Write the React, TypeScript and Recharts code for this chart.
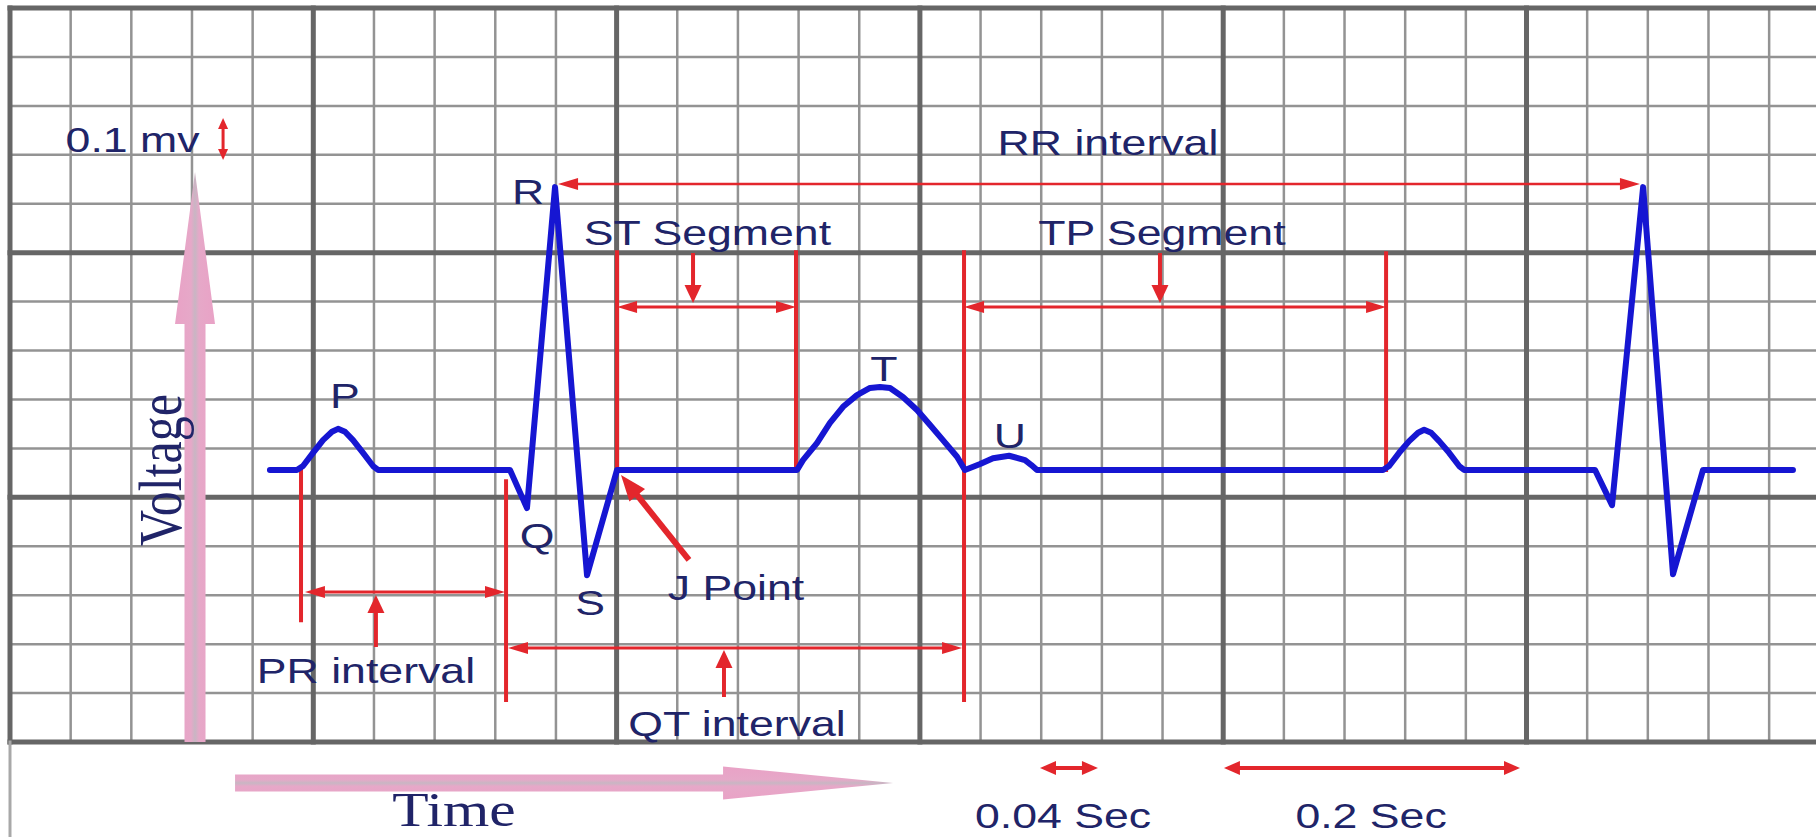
import React from 'react';
import { ComposedChart, Line, XAxis, YAxis, ReferenceLine, ReferenceDot } from 'recharts';

// ---------- data (time in seconds, voltage in mV) ----------
const traceTime = [
  0.1714,
  // P wave
  0.1892, 0.1932, 0.1998, 0.2064, 0.2123, 0.2163, 0.2209, 0.2262, 0.2328, 0.2394, 0.2427,
  // PR segment, QRS
  0.3297, 0.3409, 0.3594, 0.3805, 0.4003,
  // ST segment, T wave
  0.5190, 0.5229, 0.5321, 0.5407, 0.5493, 0.5585, 0.5671, 0.5737, 0.5803, 0.5888, 0.5981, 0.6067, 0.6152, 0.6245, 0.6297,
  // U wave
  0.6397, 0.6482, 0.6588, 0.6693, 0.6735, 0.6772,
  // second P wave
  0.9054, 0.9094, 0.9160, 0.9226, 0.9285, 0.9325, 0.9371, 0.9424, 0.9490, 0.9556, 0.9589,
  // second QRS
  1.0452, 1.0564, 1.0769, 1.0966, 1.1164, 1.1757,
];
const traceVoltage = [
  0.556,
  0.556, 0.564, 0.591, 0.617, 0.634, 0.640, 0.634, 0.617, 0.591, 0.564, 0.556,
  0.556, 0.478, 1.134, 0.341, 0.556,
  0.556, 0.576, 0.611, 0.652, 0.685, 0.709, 0.7235, 0.7255, 0.7235, 0.705, 0.6785, 0.648, 0.617, 0.583, 0.556,
  0.568, 0.580, 0.585, 0.576, 0.566, 0.556,
  0.556, 0.564, 0.591, 0.615, 0.632, 0.638, 0.632, 0.615, 0.591, 0.564, 0.556,
  0.556, 0.484, 1.134, 0.343, 0.556, 0.556,
];

// visible window of the paper
const timeDomain = [-0.006594, 1.190894];
const voltDomain = [-0.19415, 1.51643];
const paperTop = 1.5;

// grid ticks: 0.04 s small boxes, 0.1 mV small boxes
const gridTimeTicks = Array.from({ length: 30 }, (_, k) => k * 0.04);
const gridVoltTicks = Array.from({ length: 16 }, (_, k) => k * 0.1);

// red vertical guide lines
const guideTime = [0.1919, 0.3271, 0.4003, 0.5183, 0.6291, 0.9074];
const guideTop = [0.556, 0.533, 1.001, 1.001, 1.001, 0.999];
const guideBottom = [0.249, 0.086, 0.552, 0.556, 0.086, 0.556];

// interval double arrows: RR, ST, TP, PR, QT
const intervalStart = [0.3614, 0.4003, 0.6291, 0.1945, 0.3284];
const intervalEnd = [1.0748, 0.5183, 0.9074, 0.3264, 0.6278];
const intervalLevel = [1.1404, 0.8890, 0.8890, 0.3066, 0.1921];

// small pointer arrows (ST, TP down; PR, QT up)
const pointerTime = [0.4504, 0.7583, 0.2413, 0.4708];
const pointerFrom = [0.9994, 0.9994, 0.1942, 0.0920];
const pointerTo = [0.8972, 0.8972, 0.3004, 0.1880];

// J point arrow
const jArrowFrom = { t: 0.4477, mv: 0.3720 };
const jArrowTo = { t: 0.4029, mv: 0.5457 };

// scale arrows: 0.1 mV, 0.04 s, 0.2 s
const mvScale = { t: 0.1405, from: 1.2753, to: 1.1894 };
const secScaleLevel = -0.0531;
const secScaleStart = [0.6792, 0.8005];
const secScaleEnd = [0.7174, 0.9957];

// pink axis arrows
const voltageArrow = { t: 0.1220, from: 0, to: 1.1649 };
const timeArrow = { mv: -0.0838, from: 0.1484, to: 0.5823 };

// labels
const labelTexts = ['0.1 mv', 'RR interval', 'R', 'ST Segment', 'TP Segment', 'P', 'T', 'U', 'Q', 'S',
  'J Point', 'PR interval', 'QT interval', '0.04 Sec', '0.2 Sec', 'Time', 'Voltage'];
const labelTime = [0.0808, 0.7240, 0.3416, 0.4599, 0.7596, 0.2209, 0.5763, 0.6594, 0.3475, 0.3825,
  0.4787, 0.2347, 0.4794, 0.6944, 0.8975, 0.2928, 0.1128];
const labelVolt = [1.2058, 1.1997, 1.0995, 1.0157, 1.0157, 0.6826, 0.7378, 0.6008, 0.3965, 0.2595,
  0.2902, 0.1206, 0.0123, -0.1758, -0.1758, -0.1717, 0.5559];

const traceData = traceTime.map((t, i) => ({ t, mv: traceVoltage[i] }));

// ---------- styles ----------
const RED = '#e3262c';
const INK = '#202468';
const BLUE = '#1616d2';
const MAJOR = '#666666';
const MINOR = '#939393';
const SANS = 'Liberation Sans, Arial, sans-serif';
const SERIF = 'Liberation Serif, Times New Roman, serif';
const STRETCH = 1.24;

function headPoints(tx: number, ty: number, ux: number, uy: number, len: number, wid: number) {
  const bx = tx - ux * len;
  const by = ty - uy * len;
  const nx = (-uy * wid) / 2;
  const ny = (ux * wid) / 2;
  return `${tx},${ty} ${bx + nx},${by + ny} ${bx - nx},${by - ny}`;
}

function arrowShape(width: number, headLen: number, headWid: number, atStart: boolean, atEnd: boolean) {
  return (p: any) => {
    const { x1, y1, x2, y2 } = p;
    const dx = x2 - x1;
    const dy = y2 - y1;
    const L = Math.hypot(dx, dy) || 1;
    const ux = dx / L;
    const uy = dy / L;
    const sx = atStart ? x1 + ux * headLen * 0.7 : x1;
    const sy = atStart ? y1 + uy * headLen * 0.7 : y1;
    const ex = atEnd ? x2 - ux * headLen * 0.7 : x2;
    const ey = atEnd ? y2 - uy * headLen * 0.7 : y2;
    return (
      <g>
        <line x1={sx} y1={sy} x2={ex} y2={ey} stroke={RED} strokeWidth={width} />
        {atStart && <polygon points={headPoints(x1, y1, -ux, -uy, headLen, headWid)} fill={RED} />}
        {atEnd && <polygon points={headPoints(x2, y2, ux, uy, headLen, headWid)} fill={RED} />}
      </g>
    );
  };
}

function gridShape(width: number, color: string) {
  return (p: any) => (
    <line x1={p.x1} y1={p.y1} x2={p.x2} y2={p.y2} stroke={color} strokeWidth={width} strokeLinecap="square" />
  );
}

function pinkArrow(shaftW: number, headLen: number, headW: number, id: string) {
  return (p: any) => {
    const { x1, y1, x2, y2 } = p;
    const dx = x2 - x1;
    const dy = y2 - y1;
    const L = Math.hypot(dx, dy) || 1;
    const ux = dx / L;
    const uy = dy / L;
    const nx = -uy;
    const ny = ux;
    const bx = x2 - ux * headLen;
    const by = y2 - uy * headLen;
    const pts = [
      [x1 + (nx * shaftW) / 2, y1 + (ny * shaftW) / 2],
      [bx + (nx * shaftW) / 2, by + (ny * shaftW) / 2],
      [bx + (nx * headW) / 2, by + (ny * headW) / 2],
      [x2, y2],
      [bx - (nx * headW) / 2, by - (ny * headW) / 2],
      [bx - (nx * shaftW) / 2, by - (ny * shaftW) / 2],
      [x1 - (nx * shaftW) / 2, y1 - (ny * shaftW) / 2],
    ]
      .map((q) => q.join(','))
      .join(' ');
    return (
      <g>
        <defs>
          <linearGradient
            id={id}
            gradientUnits="userSpaceOnUse"
            x1={x1 + (nx * headW) / 2}
            y1={y1 + (ny * headW) / 2}
            x2={x1 - (nx * headW) / 2}
            y2={y1 - (ny * headW) / 2}
          >
            <stop offset="0" stopColor="#e9a2c6" />
            <stop offset="0.4" stopColor="#e6a8c8" />
            <stop offset="0.5" stopColor="#c8b6c3" />
            <stop offset="0.6" stopColor="#e6a8c8" />
            <stop offset="1" stopColor="#e9a2c6" />
          </linearGradient>
        </defs>
        <polygon points={pts} fill={`url(#${id})`} />
      </g>
    );
  };
}

function labelShape(text: string) {
  const serif = text === 'Time' || text === 'Voltage';
  const rotate = text === 'Voltage';
  const size = text === 'Time' ? 48 : serif ? 50 : 36;
  return (p: any) => (
    <text
      transform={`translate(${p.cx},${p.cy}) scale(${STRETCH},1)${rotate ? ' rotate(-90)' : ''}`}
      x={0}
      y={0}
      textAnchor="middle"
      fontSize={size}
      fontFamily={serif ? SERIF : SANS}
      fill={INK}
    >
      {text}
    </text>
  );
}

export default function App() {
  return (
    <div style={{ position: 'absolute', left: 0, top: 0, width: 1816, height: 837, background: '#ffffff' }}>
      <ComposedChart width={1816} height={837} data={traceData} margin={{ top: 0, right: 0, bottom: 0, left: 0 }}>
        <XAxis type="number" dataKey="t" domain={timeDomain} allowDataOverflow hide />
        <YAxis type="number" domain={voltDomain} allowDataOverflow hide />

        {/* paper grid: minor first, then major */}
        {gridTimeTicks.map((t, k) =>
          k % 5 !== 0 ? (
            <ReferenceLine key={`gvm${k}`} segment={[{ x: t, y: 0 }, { x: t, y: paperTop }]} ifOverflow="visible" shape={gridShape(2.5, MINOR)} />
          ) : null
        )}
        {gridVoltTicks.map((v, k) =>
          k % 5 !== 0 ? (
            <ReferenceLine key={`ghm${k}`} segment={[{ x: 0, y: v }, { x: timeDomain[1], y: v }]} ifOverflow="visible" shape={gridShape(2.5, MINOR)} />
          ) : null
        )}
        {gridTimeTicks.map((t, k) =>
          k % 5 === 0 ? (
            <ReferenceLine key={`gvM${k}`} segment={[{ x: t, y: 0 }, { x: t, y: paperTop }]} ifOverflow="visible" shape={gridShape(5, MAJOR)} />
          ) : null
        )}
        {gridVoltTicks.map((v, k) =>
          k % 5 === 0 ? (
            <ReferenceLine key={`ghM${k}`} segment={[{ x: 0, y: v }, { x: timeDomain[1], y: v }]} ifOverflow="visible" shape={gridShape(5, MAJOR)} />
          ) : null
        )}
        <ReferenceLine segment={[{ x: 0, y: 0 }, { x: 0, y: voltDomain[0] }]} ifOverflow="visible" shape={gridShape(3, '#a8a8a8')} />

        {/* pink axis arrows */}
        <ReferenceLine
          segment={[{ x: voltageArrow.t, y: voltageArrow.from }, { x: voltageArrow.t, y: voltageArrow.to }]}
          ifOverflow="visible"
          shape={pinkArrow(21, 152, 40, 'pinkV')}
        />
        <ReferenceLine
          segment={[{ x: timeArrow.from, y: timeArrow.mv }, { x: timeArrow.to, y: timeArrow.mv }]}
          ifOverflow="visible"
          shape={pinkArrow(17, 170, 33, 'pinkT')}
        />

        {/* red guides */}
        {guideTime.map((t, i) => (
          <ReferenceLine
            key={`guide${i}`}
            segment={[{ x: t, y: guideTop[i] }, { x: t, y: guideBottom[i] }]}
            ifOverflow="visible"
            shape={gridShape(4, RED)}
          />
        ))}
        {intervalStart.map((s, i) => (
          <ReferenceLine
            key={`int${i}`}
            segment={[{ x: s, y: intervalLevel[i] }, { x: intervalEnd[i], y: intervalLevel[i] }]}
            ifOverflow="visible"
            shape={arrowShape(i === 0 ? 2.5 : 3, 20, 12, true, true)}
          />
        ))}
        {pointerTime.map((t, i) => (
          <ReferenceLine
            key={`ptr${i}`}
            segment={[{ x: t, y: pointerFrom[i] }, { x: t, y: pointerTo[i] }]}
            ifOverflow="visible"
            shape={arrowShape(4, 18, 17, false, true)}
          />
        ))}
        <ReferenceLine
          segment={[{ x: jArrowFrom.t, y: jArrowFrom.mv }, { x: jArrowTo.t, y: jArrowTo.mv }]}
          ifOverflow="visible"
          shape={arrowShape(6, 26, 20, false, true)}
        />
        <ReferenceLine
          segment={[{ x: mvScale.t, y: mvScale.from }, { x: mvScale.t, y: mvScale.to }]}
          ifOverflow="visible"
          shape={arrowShape(3, 11, 10, true, true)}
        />
        {secScaleStart.map((s, i) => (
          <ReferenceLine
            key={`sec${i}`}
            segment={[{ x: s, y: secScaleLevel }, { x: secScaleEnd[i], y: secScaleLevel }]}
            ifOverflow="visible"
            shape={arrowShape(4, 16, 14, true, true)}
          />
        ))}

        {/* ECG trace */}
        <Line
          type="linear"
          dataKey="mv"
          stroke={BLUE}
          strokeWidth={6}
          strokeLinejoin="round"
          strokeLinecap="round"
          dot={false}
          activeDot={false}
          isAnimationActive={false}
        />

        {/* labels */}
        {labelTexts.map((text, i) => (
          <ReferenceDot key={`lbl${i}`} x={labelTime[i]} y={labelVolt[i]} r={0} ifOverflow="visible" shape={labelShape(text)} />
        ))}
      </ComposedChart>
    </div>
  );
}
